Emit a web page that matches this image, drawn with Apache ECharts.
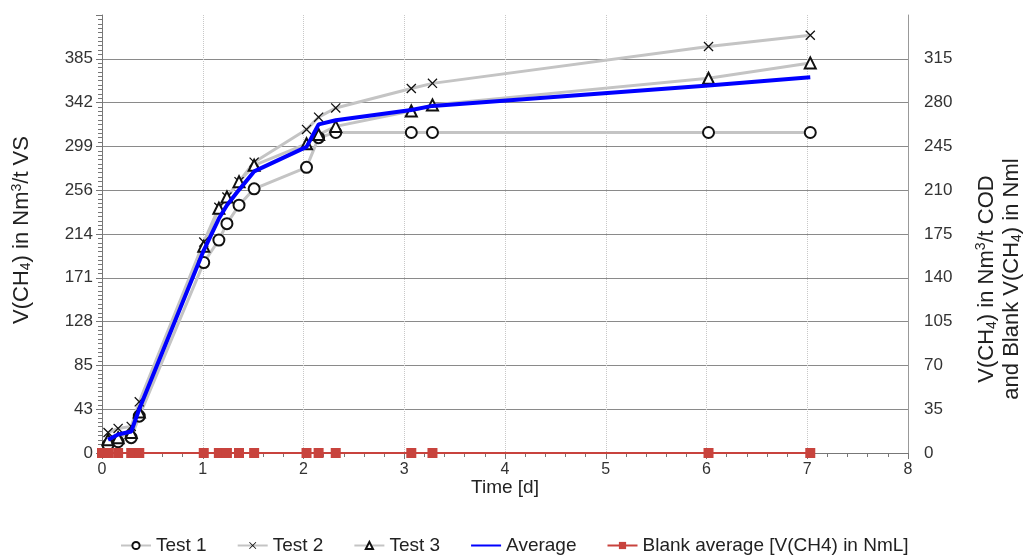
<!DOCTYPE html>
<html>
<head>
<meta charset="utf-8">
<script src="https://cdn.jsdelivr.net/npm/echarts@6/dist/echarts.min.js"></script>
<style>
html,body{margin:0;padding:0;background:#fff;}
#chart{width:1032px;height:557px;}
</style>
</head>
<body>
<div id="chart"></div>
<script>
// ---- data ----
const days     = [0.06, 0.16, 0.29, 0.37, 1.01, 1.16, 1.24, 1.36, 1.51, 2.03, 2.15, 2.32, 3.07, 3.28, 6.02, 7.03];
const test1    = [8, 11, 15, 36, 186, 208, 224, 242, 258, 279, 308, 313, 313, 313, 313, 313];
const test2    = [20, 24, 26, 50, 206, 240, 250, 265, 284, 316, 328, 337, 356, 361, 397, 408];
const test3    = [13, 15, 20, 40, 202, 239, 250, 265, 281, 302, 311, 319, 334, 340, 366, 381];
const average  = [13, 18, 21, 43, 198, 229, 242, 257, 275, 299, 321, 325, 335, 339, 359, 367];
const blankDays = [0, 0.06, 0.16, 0.29, 0.37, 1.01, 1.16, 1.24, 1.36, 1.51, 2.03, 2.15, 2.32, 3.07, 3.28, 6.02, 7.03];
const blank     = [0, 0, 0, 0, 0, 0, 0, 0, 0, 0, 0, 0, 0, 0, 0, 0, 0];
const leftTickLabels  = ['0', '43', '85', '128', '171', '214', '256', '299', '342', '385', ''];
const rightTickLabels = ['0', '35', '70', '105', '140', '175', '210', '245', '280', '315', ''];
const xTickLabels = ['0', '1', '2', '3', '4', '5', '6', '7', '8'];
const seriesNames = ['Test 1', 'Test 2', 'Test 3', 'Average', 'Blank average [V(CH4) in NmL]'];

const leftMax = 385 / 9 * 10;
const leftInterval = 385 / 9;

function pairs(xs, ys) { return xs.map((x, i) => [x, ys[i]]); }

const FONT = '"Liberation Sans", Arial, sans-serif';
const crossPath = 'path://M0,0.9 L0.9,0 L10,9.1 L9.1,10 Z M9.1,0 L10,0.9 L0.9,10 L0,9.1 Z';

const gridColors = [];
for (let i = 0; i < 10; i++) gridColors.push('#8a8a8a');
gridColors.push('rgba(0,0,0,0)');

const richName = {
  sub: { fontFamily: FONT, fontSize: 14, color: '#222', verticalAlign: 'bottom', padding: [9, 0, 0, 0] },
  sup: { fontFamily: FONT, fontSize: 14, color: '#222', verticalAlign: 'top', padding: [0, 0, 9, 0] }
};

const testStyle = (name, data, symbol, size, bw) => ({
  name: name,
  type: 'line',
  data: data,
  symbol: symbol,
  symbolSize: size,
  showAllSymbol: true,
  lineStyle: { color: '#c4c4c4', width: 3 },
  itemStyle: { color: '#111', borderColor: '#111', borderWidth: bw },
  z: 3
});

const legendData = seriesNames.map(n => n === 'Average'
  ? { name: n, itemStyle: { opacity: 0 } }
  : n);

const chart = echarts.init(document.getElementById('chart'));
chart.setOption({
  animation: false,
  backgroundColor: '#fff',
  textStyle: { fontFamily: FONT },
  grid: { left: 102, right: 124, top: 15, bottom: 104 },
  legend: {
    top: 536,
    left: 120,
    padding: 0,
    itemWidth: 30,
    itemHeight: 9,
    itemGap: 30,
    textStyle: { fontFamily: FONT, fontSize: 19, color: '#222' },
    data: legendData
  },
  xAxis: {
    type: 'value',
    min: 0, max: 8, interval: 1,
    name: 'Time [d]',
    nameLocation: 'middle',
    nameGap: 25,
    nameMoveOverlap: false,
    nameTextStyle: { fontFamily: FONT, fontSize: 19, color: '#222', verticalAlign: 'top' },
    axisLine: { show: true, lineStyle: { color: '#777', width: 1 } },
    axisTick: { show: true, length: 6, lineStyle: { color: '#777' } },
    minorTick: { show: true, splitNumber: 5, length: 4, lineStyle: { color: '#777' } },
    axisLabel: {
      fontFamily: FONT, fontSize: 16, color: '#333', margin: 9,
      formatter: v => xTickLabels[Math.round(v)]
    },
    splitLine: { show: true, lineStyle: { color: '#c8c8c8', type: 'dotted', width: 1 } }
  },
  yAxis: [
    {
      type: 'value',
      position: 'left',
      min: 0, max: leftMax, interval: leftInterval,
      name: 'V(CH{sub|4}) in Nm{sup|3}/t VS',
      nameLocation: 'middle',
      nameRotate: 90,
      nameGap: 69,
      nameMoveOverlap: false,
      nameTextStyle: { fontFamily: FONT, fontSize: 22, color: '#222', rich: richName, padding: [0, 0, 0, 8] },
      axisLine: { show: true, lineStyle: { color: '#777', width: 1 } },
      axisTick: { show: true, length: 6, lineStyle: { color: '#777' } },
      minorTick: { show: true, splitNumber: 10, length: 4, lineStyle: { color: '#777' } },
      axisLabel: {
        fontFamily: FONT, fontSize: 17, color: '#333', margin: 9,
        showMaxLabel: false,
        formatter: v => leftTickLabels[Math.round(v / leftInterval)]
      },
      splitLine: { show: true, lineStyle: { color: gridColors, width: 1 } }
    },
    {
      type: 'value',
      position: 'right',
      min: 0, max: 350, interval: 35,
      name: 'V(CH{sub|4}) in Nm{sup|3}/t COD\nand Blank V(CH{sub|4}) in Nml',
      nameLocation: 'middle',
      nameRotate: 90,
      nameGap: 66,
      nameMoveOverlap: false,
      nameTextStyle: { fontFamily: FONT, fontSize: 22, color: '#222', lineHeight: 25, rich: richName, padding: [0, 90, 0, 0] },
      axisLine: { show: true, lineStyle: { color: '#999', width: 1 } },
      axisTick: { show: false },
      axisLabel: {
        fontFamily: FONT, fontSize: 17, color: '#333', margin: 16,
        showMaxLabel: false,
        formatter: v => rightTickLabels[Math.round(v / 35)]
      },
      splitLine: { show: false }
    }
  ],
  series: [
    testStyle('Test 1', pairs(days, test1), 'emptyCircle', 11, 1.2),
    testStyle('Test 2', pairs(days, test2), crossPath, 10, 0),
    testStyle('Test 3', pairs(days, test3), 'emptyTriangle', 11, 1.2),
    {
      name: 'Average',
      type: 'line',
      data: pairs(days, average),
      symbol: 'none',
      lineStyle: { color: '#0000ff', width: 4 },
      itemStyle: { color: '#0000ff' },
      z: 5
    },
    {
      name: 'Blank average [V(CH4) in NmL]',
      type: 'line',
      yAxisIndex: 1,
      data: pairs(blankDays, blank),
      symbol: 'rect',
      symbolSize: 10,
      showAllSymbol: true,
      lineStyle: { color: '#c8433d', width: 2 },
      itemStyle: { color: '#c8433d' },
      z: 6
    }
  ]
});
</script>
</body>
</html>
